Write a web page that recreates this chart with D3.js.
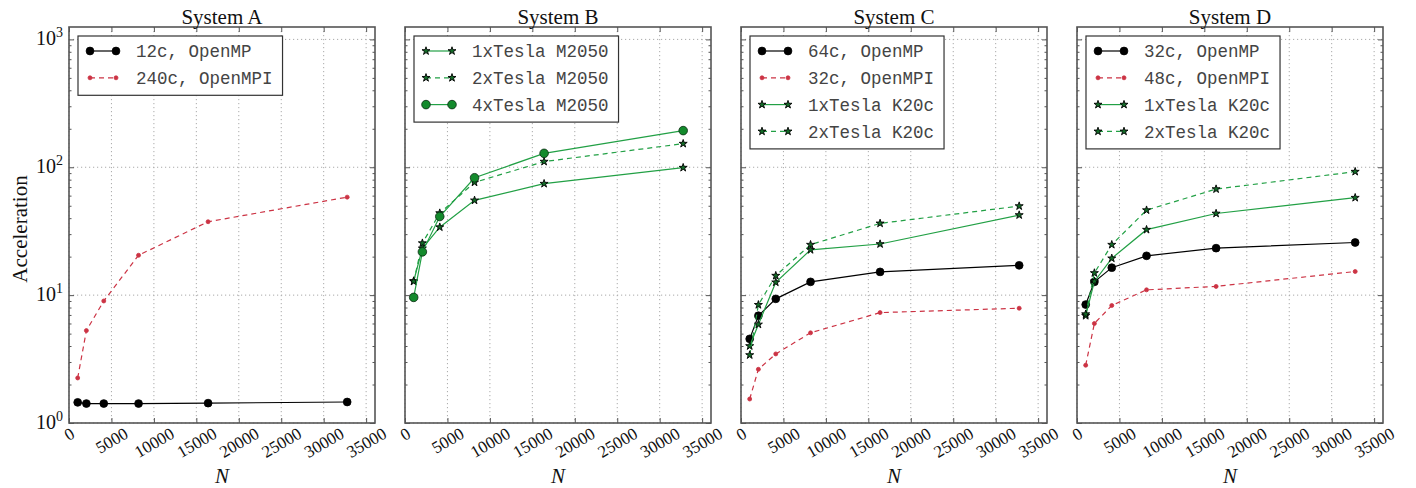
<!DOCTYPE html>
<html lang="en">
<head>
    <meta charset="UTF-8">
    <title>Acceleration vs N</title>
    <style>
        body { margin: 0; background: #fff; }
        svg { display: block; }
        .xlab { font-family: "Liberation Serif", serif; font-size: 17px; fill: #111; }
        .ylab { font-family: "Liberation Serif", serif; font-size: 20px; fill: #111; }
        .title { font-family: "Liberation Serif", serif; font-size: 21px; fill: #111; }
        .axlabel { font-family: "Liberation Serif", serif; font-size: 21px; fill: #111; }
        .legend text { font-family: "Liberation Mono", monospace; font-size: 17.5px; fill: #444; }
    </style>
</head>
<body>
<div id="chart"></div>
<script src="https://d3js.org/d3.v7.min.js"></script>
<script>
    // problem sizes (x) and tick values
    const N = [1024, 2048, 4096, 8192, 16384, 32768];
    const xTicks = [0, 5000, 10000, 15000, 20000, 25000, 30000, 35000];
    const yMajor = [1, 10, 100, 1000];

    // System A
    const aOmp12 = [1.45, 1.42, 1.42, 1.42, 1.43, 1.46];
    const aMpi240 = [2.25, 5.28, 9.0, 20.5, 37.5, 58.4];
    // System B
    const bTesla1 = [12.9, 23.2, 34.0, 55.1, 74.4, 99.3];
    const bTesla2 = [12.8, 25.5, 43.8, 76.2, 110.7, 153];
    const bTesla4 = [9.6, 21.8, 41.2, 82.8, 128.5, 193.5];
    // System C
    const cOmp64 = [4.55, 6.9, 9.35, 12.7, 15.2, 17.1];
    const cMpi32 = [1.54, 2.63, 3.47, 5.07, 7.3, 7.9];
    const cK20c1 = [4.0, 5.9, 12.6, 22.6, 25.1, 42.3];
    const cK20c2 = [3.4, 8.4, 14.2, 24.8, 36.4, 49.7];
    // System D
    const dOmp32 = [8.44, 12.7, 16.4, 20.3, 23.3, 25.8];
    const dMpi48 = [2.83, 6.0, 8.3, 11.0, 11.7, 15.3];
    const dK20c1 = [6.9, 12.8, 19.4, 32.5, 43.5, 57.8];
    const dK20c2 = [7.1, 14.9, 24.8, 46.2, 67.5, 92.4];

    const panels = [
        { title: "System A", series: [
            { label: "12c, OpenMP", values: aOmp12, style: "omp" },
            { label: "240c, OpenMPI", values: aMpi240, style: "mpi" }] },
        { title: "System B", series: [
            { label: "1xTesla M2050", values: bTesla1, style: "gpu1" },
            { label: "2xTesla M2050", values: bTesla2, style: "gpu2" },
            { label: "4xTesla M2050", values: bTesla4, style: "gpu4" }] },
        { title: "System C", series: [
            { label: "64c, OpenMP", values: cOmp64, style: "omp" },
            { label: "32c, OpenMPI", values: cMpi32, style: "mpi" },
            { label: "1xTesla K20c", values: cK20c1, style: "gpu1" },
            { label: "2xTesla K20c", values: cK20c2, style: "gpu2" }] },
        { title: "System D", series: [
            { label: "32c, OpenMP", values: dOmp32, style: "omp" },
            { label: "48c, OpenMPI", values: dMpi48, style: "mpi" },
            { label: "1xTesla K20c", values: dK20c1, style: "gpu1" },
            { label: "2xTesla K20c", values: dK20c2, style: "gpu2" }] }
    ];

    const red = "#cc3344", green = "#22a045";
    const styles = {
        omp:  { color: "#000", dash: null, marker: "circle", r: 3.9, fill: "#000", edge: "#000" },
        mpi:  { color: red, dash: "5,4", marker: "circle", r: 2, fill: red, edge: red },
        gpu1: { color: green, dash: null, marker: "star", size: 20, fill: "#136b27", edge: "#000" },
        gpu2: { color: green, dash: "5,4", marker: "star", size: 20, fill: "#136b27", edge: "#000" },
        gpu4: { color: green, dash: null, marker: "circle", r: 4.3, fill: "#138a2c", edge: "#0a2a10" }
    };

    const W = 1416, H = 488;
    const plotW = 306, plotTop = 27, plotH = 396;
    const panelLeft = [69, 405, 741, 1077];
    const axisColor = "#555";

    const x = d3.scaleLinear().domain([0, 32768 * 1.1]).range([0, plotW]);
    const y = d3.scaleLog().domain([1, 1250]).range([plotH, 0]);

    const yMinor = [];
    yMajor.forEach(d => { for (let k = 2; k <= 9; k++) if (d * k <= 1250) yMinor.push(d * k); });

    const svg = d3.select("#chart").append("svg")
        .attr("width", W).attr("height", H);

    function drawMarker(g, st, px, py) {
        if (st.marker === "circle") {
            g.append("circle").attr("cx", px).attr("cy", py).attr("r", st.r)
                .attr("fill", st.fill).attr("stroke", st.edge).attr("stroke-width", 0.8);
        } else {
            g.append("path")
                .attr("d", d3.symbol(d3.symbolStar, st.size)())
                .attr("transform", `translate(${px},${py})`)
                .attr("fill", st.fill).attr("stroke", st.edge).attr("stroke-width", 0.9);
        }
    }

    function styleAxis(g) {
        g.select(".domain").remove();
        g.selectAll(".tick line").attr("stroke", axisColor).attr("stroke-width", 1);
    }

    panels.forEach((p, i) => {
        const g = svg.append("g").attr("transform", `translate(${panelLeft[i]},${plotTop})`);

        // grid
        g.append("g").selectAll("line").data(xTicks).join("line")
            .attr("x1", d => x(d)).attr("x2", d => x(d)).attr("y1", 0).attr("y2", plotH)
            .attr("stroke", "#aaa").attr("stroke-dasharray", "1.2,2.8");
        g.append("g").selectAll("line").data(yMajor).join("line")
            .attr("x1", 0).attr("x2", plotW).attr("y1", d => y(d)).attr("y2", d => y(d))
            .attr("stroke", "#aaa").attr("stroke-dasharray", "1.2,2.8");

        // series
        const line = d3.line().x((d, j) => x(N[j])).y(d => y(d));
        p.series.forEach(s => {
            const st = styles[s.style];
            g.append("path").datum(s.values).attr("d", line)
                .attr("fill", "none").attr("stroke", st.color).attr("stroke-width", 1.2)
                .attr("stroke-dasharray", st.dash);
            const mg = g.append("g");
            s.values.forEach((v, j) => drawMarker(mg, st, x(N[j]), y(v)));
        });

        // axes (ticks inward)
        g.append("g").attr("transform", `translate(0,${plotH})`)
            .call(d3.axisBottom(x).tickValues(xTicks).tickSize(-5).tickSizeOuter(0).tickFormat(d3.format("d")))
            .call(styleAxis)
            .call(ax => {
                ax.selectAll(".tick text").attr("class", "xlab").attr("fill", null)
                    .attr("font-family", null).attr("font-size", null)
                    .attr("x", 0).attr("y", 0).attr("dy", null)
                    .attr("text-anchor", "middle").attr("dominant-baseline", "central")
                    .attr("transform", function () {
                        const w = this.getComputedTextLength();
                        const bh = w * 0.5 + 12 * 0.866;
                        return `translate(0,${4 + bh / 2}) rotate(-30)`;
                    });
            });
        g.append("g")
            .call(d3.axisTop(x).tickValues(xTicks).tickSize(-5).tickSizeOuter(0).tickFormat(""))
            .call(styleAxis);
        [[d3.axisLeft, 0], [d3.axisRight, plotW]].forEach(([axf, off]) => {
            g.append("g").attr("transform", `translate(${off},0)`)
                .call(axf(y).tickValues(yMajor).tickSize(-5).tickSizeOuter(0).tickFormat(""))
                .call(styleAxis);
            g.append("g").attr("transform", `translate(${off},0)`)
                .call(axf(y).tickValues(yMinor).tickSize(-2.5).tickSizeOuter(0).tickFormat(""))
                .call(styleAxis);
        });

        // frame
        g.append("rect").attr("width", plotW).attr("height", plotH)
            .attr("fill", "none").attr("stroke", axisColor).attr("stroke-width", 1.6);

        // y tick labels on first panel only
        if (i === 0) {
            yMajor.forEach((d, k) => {
                const t = g.append("text").attr("class", "ylab")
                    .attr("x", -6).attr("y", y(d) + 6).attr("text-anchor", "end");
                t.append("tspan").text("10");
                t.append("tspan").attr("font-size", "14px").attr("dy", -8).text(String(k));
            });
            svg.append("text").attr("class", "axlabel")
                .attr("transform", `translate(27,${plotTop + plotH / 2 + 4}) rotate(-90)`)
                .attr("text-anchor", "middle").text("Acceleration");
        }

        // title and x label
        g.append("text").attr("class", "title").attr("x", plotW / 2).attr("y", -3)
            .attr("text-anchor", "middle").text(p.title);
        g.append("text").attr("class", "axlabel").attr("x", plotW / 2).attr("y", plotH + 60)
            .attr("text-anchor", "middle").attr("font-style", "italic").text("N");

        // legend
        const lg = g.append("g").attr("class", "legend").attr("transform", "translate(9,9)");
        const box = lg.append("rect").attr("fill", "#fff").attr("stroke", "#333").attr("stroke-width", 1.2);
        let maxW = 0;
        p.series.forEach((s, k) => {
            const st = styles[s.style];
            const cy = 15 + k * 26.8;
            lg.append("line").attr("x1", 12).attr("x2", 38).attr("y1", cy).attr("y2", cy)
                .attr("stroke", st.color).attr("stroke-width", 1.2).attr("stroke-dasharray", st.dash);
            drawMarker(lg, st, 12, cy);
            drawMarker(lg, st, 38, cy);
            const t = lg.append("text").attr("x", 58).attr("y", cy).attr("dy", "0.35em").text(s.label);
            maxW = Math.max(maxW, t.node().getComputedTextLength());
        });
        box.attr("width", 58 + maxW + 10).attr("height", 15 + (p.series.length - 1) * 26.8 + 17.5);
    });
</script>
</body>
</html>
